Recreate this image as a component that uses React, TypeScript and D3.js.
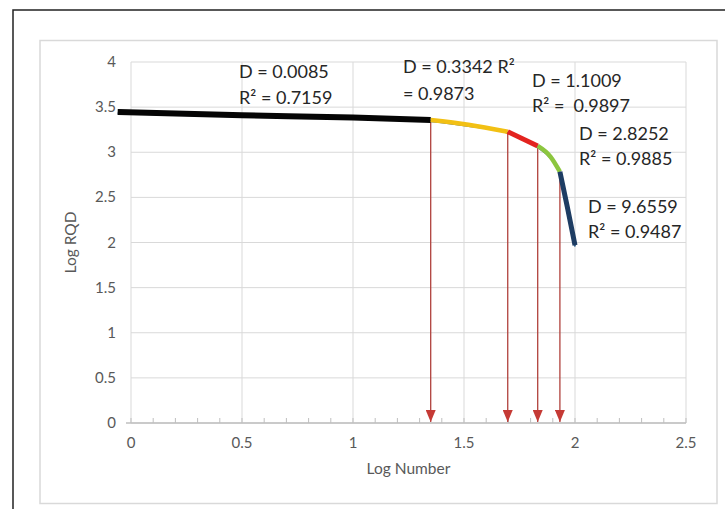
import React from "react";
import * as d3 from "d3";

const xTicks = [0, 0.5, 1, 1.5, 2, 2.5];
const yTicks = [0, 0.5, 1, 1.5, 2, 2.5, 3, 3.5, 4];

const blackX = [-0.06, 0.5, 1.0, 1.35];
const blackY = [3.445, 3.41, 3.385, 3.357];
const yellowX = [1.35, 1.52, 1.697];
const yellowY = [3.357, 3.305, 3.228];
const redX = [1.697, 1.832];
const redY = [3.228, 3.07];
const greenX = [1.832, 1.89, 1.932];
const greenY = [3.07, 2.95, 2.785];
const navyX = [1.932, 1.965, 2.0];
const navyY = [2.785, 2.4, 1.97];

const arrowX = [1.35, 1.697, 1.832, 1.932];
const arrowY = [3.357, 3.228, 3.07, 2.785];

const labelLines = [
  ["D = 0.0085", "R\u00B2 = 0.7159"],
  ["D = 0.3342 R\u00B2", "= 0.9873"],
  ["D = 1.1009", "R\u00B2 =  0.9897"],
  ["D = 2.8252", "R\u00B2 = 0.9885"],
  ["D = 9.6559", "R\u00B2 = 0.9487"],
];
const labelPos = [
  [239, 71, 97],
  [403, 66, 93],
  [532, 80, 105],
  [579, 133, 158],
  [588, 206, 231],
];

const FONT = "Lato, 'Open Sans', sans-serif";

export default function App() {
  const x = d3.scaleLinear().domain([0, 2.5]).range([131, 686]);
  const y = d3.scaleLinear().domain([0, 4]).range([423, 62]);
  const line = d3
    .line<[number, number]>()
    .x((d) => x(d[0]))
    .y((d) => y(d[1]))
    .curve(d3.curveMonotoneX);

  const zip = (xs: number[], ys: number[]) =>
    xs.map((v, i) => [v, ys[i]] as [number, number]);

  const segments = [
    { pts: zip(blackX, blackY), color: "#050505", w: 6 },
    { pts: zip(yellowX, yellowY), color: "#f2c014", w: 4.5 },
    { pts: zip(redX, redY), color: "#e3231f", w: 5 },
    { pts: zip(greenX, greenY), color: "#8cc63f", w: 4.5 },
    { pts: zip(navyX, navyY), color: "#1e3d63", w: 5 },
  ];
  const allPts = [
    ...zip(blackX, blackY),
    ...zip(yellowX, yellowY).slice(1),
    ...zip(redX, redY).slice(1),
    ...zip(greenX, greenY).slice(1),
    ...zip(navyX, navyY).slice(1),
  ];

  const minor = d3.range(0, 2.5001, 0.1);

  return (
    <svg
      width={725}
      height={509}
      style={{ position: "absolute", left: 0, top: 0, background: "#fff" }}
    >
      <defs>
        <marker
          id="ah"
          viewBox="0 0 12 10"
          refX={12}
          refY={5}
          markerWidth={12}
          markerHeight={10}
          markerUnits="userSpaceOnUse"
          orient="auto"
        >
          <path d="M0,0 L12,5 L0,10 Z" fill="#c53a35" />
        </marker>
      </defs>
      <rect x={13} y={10} width={730} height={520} fill="#fff" stroke="#222" strokeWidth={1.5} />
      <rect x={40} y={40.5} width={677} height={463} fill="#fff" stroke="#d9d9d9" strokeWidth={1.5} />

      {/* grid */}
      {xTicks.map((t) => (
        <line key={"gx" + t} x1={x(t)} x2={x(t)} y1={y(4)} y2={y(0)} stroke="#d9d9d9" strokeWidth={1} />
      ))}
      {yTicks.map((t) => (
        <line key={"gy" + t} x1={x(0)} x2={x(2.5)} y1={y(t)} y2={y(t)} stroke="#d9d9d9" strokeWidth={1} />
      ))}
      {/* x axis */}
      <line x1={x(0) - 5} x2={x(2.5)} y1={y(0)} y2={y(0)} stroke="#bfbfbf" strokeWidth={1.5} />
      {minor.map((t, i) => (
        <line key={"mt" + i} x1={x(t)} x2={x(t)} y1={y(0)} y2={y(0) - 5} stroke="#bfbfbf" strokeWidth={1} />
      ))}

      {/* tick labels */}
      {xTicks.map((t) => (
        <text key={"xl" + t} x={x(t)} y={y(0) + 25} textAnchor="middle" fontFamily={FONT} fontSize={15} fill="#595959">
          {String(t)}
        </text>
      ))}
      {yTicks.map((t) => (
        <text key={"yl" + t} x={116} y={y(t) + 5} textAnchor="end" fontFamily={FONT} fontSize={15} fill="#595959">
          {String(t)}
        </text>
      ))}
      <text x={(x(0) + x(2.5)) / 2} y={474} textAnchor="middle" fontFamily={FONT} fontSize={15.5} fill="#595959">
        Log Number
      </text>
      <text
        transform={`translate(76, ${y(2.0)}) rotate(-90)`}
        textAnchor="middle"
        fontFamily={FONT}
        fontSize={15.5}
        fill="#595959"
      >
        Log RQD
      </text>

      {/* arrows */}
      {arrowX.map((ax, i) => (
        <line
          key={"ar" + i}
          x1={x(ax)}
          x2={x(ax)}
          y1={y(arrowY[i])}
          y2={y(0) - 1}
          stroke="#b0413c"
          strokeWidth={1.3}
          markerEnd="url(#ah)"
        />
      ))}

      {/* underlying data line */}
      <path d={line(allPts) || ""} fill="none" stroke="#2f5d8c" strokeWidth={2} transform="translate(0,1.2)" />

      {/* colored segments */}
      {segments.map((s, i) => (
        <path key={"s" + i} d={line(s.pts) || ""} fill="none" stroke={s.color} strokeWidth={s.w} strokeLinecap="butt" />
      ))}

      {/* annotations */}
      {labelLines.map((lines, i) => (
        <g key={"lab" + i}>
          {lines.map((txt, j) => (
            <text
              key={j}
              x={labelPos[i][0]}
              y={labelPos[i][1 + j] + 6.5}
              fontFamily={FONT}
              fontSize={18}
              fill="#262626"
              style={{ whiteSpace: "pre" }}
            >
              {txt}
            </text>
          ))}
        </g>
      ))}
    </svg>
  );
}
